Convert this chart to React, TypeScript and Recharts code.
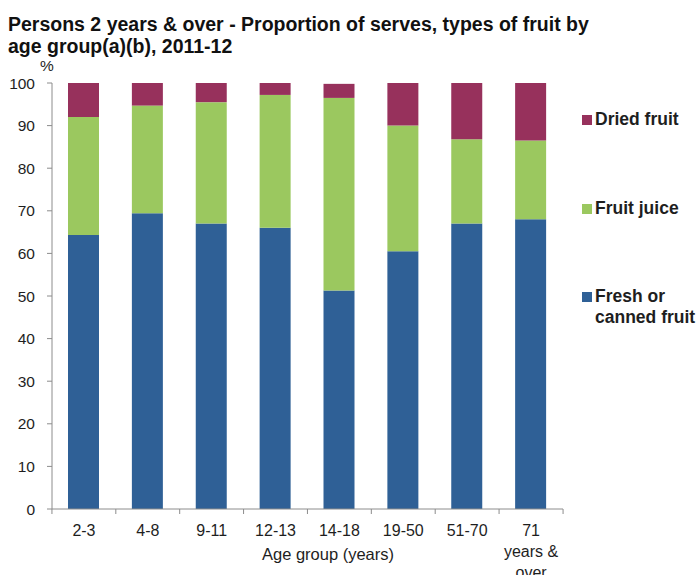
import { BarChart, Bar, XAxis, YAxis } from 'recharts'

const AGE_GROUPS = ['2-3', '4-8', '9-11', '12-13', '14-18', '19-50', '51-70', '71 years & over']
const FRESH = [64.3, 69.4, 67.0, 66.0, 51.3, 60.5, 67.0, 68.0]
const JUICE = [27.7, 25.3, 28.5, 31.2, 45.2, 29.5, 19.8, 18.5]
const DRIED = [8.0, 5.3, 4.5, 2.8, 3.3, 10.0, 13.2, 13.5]
const Y_TICKS = [0, 10, 20, 30, 40, 50, 60, 70, 80, 90, 100]

const C_FRESH = '#2F6096'
const C_JUICE = '#9BC85F'
const C_DRIED = '#97315C'
const AXIS = '#8C8C8C'
const TXT = '#1E1E1E'
const FONT = '"Liberation Sans", Arial, sans-serif'

const data = AGE_GROUPS.map((g, i) => ({
  group: g,
  fresh: FRESH[i],
  juice: JUICE[i],
  dried: DRIED[i],
}))

// age labels, with tick marks on the category boundaries
function AgeTick(props: any) {
  const { x, y, payload, index } = props
  const half = 32
  const lines = payload.value === '71 years & over' ? ['71', 'years &', 'over'] : [payload.value]
  return (
    <g>
      <line x1={x - half} x2={x - half} y1={y - 8} y2={y - 3} stroke={AXIS} />
      {index === AGE_GROUPS.length - 1 && (
        <line x1={x + half} x2={x + half} y1={y - 8} y2={y - 3} stroke={AXIS} />
      )}
      {lines.map((l, i) => (
        <text key={i} x={x} y={y + 19 + i * 21} textAnchor="middle" fontSize={16} fill={TXT} fontFamily={FONT}>
          {l}
        </text>
      ))}
    </g>
  )
}

const legendItems = [
  { label: ['Dried fruit'], color: C_DRIED, top: 109 },
  { label: ['Fruit juice'], color: C_JUICE, top: 198 },
  { label: ['Fresh or', 'canned fruit'], color: C_FRESH, top: 286 },
]

export default function App() {
  return (
    <div style={{ position: 'absolute', left: 0, top: 0, width: 698, height: 575, background: '#fff', fontFamily: FONT, overflow: 'hidden' }}>
      <div style={{ position: 'absolute', left: 8, top: 13, fontSize: 19.5, fontWeight: 'bold', lineHeight: '22px', color: '#111', whiteSpace: 'nowrap' }}>
        Persons 2 years &amp; over - Proportion of serves, types of fruit by
        <br />
        age group(a)(b), 2011-12
      </div>
      <div style={{ position: 'absolute', left: 40, top: 57, fontSize: 15.5, lineHeight: '18px', color: TXT }}>%</div>
      <BarChart width={698} height={575} data={data} margin={{ top: 83, right: 135, bottom: 0, left: 0 }}>
        <YAxis
          domain={[0, 100]}
          ticks={Y_TICKS}
          width={52}
          axisLine={{ stroke: AXIS }}
          tickLine={{ stroke: AXIS }}
          tickSize={5}
          tickMargin={12}
          tick={{ fontSize: 15.5, fill: TXT, fontFamily: FONT }}
          interval={0}
        />
        <XAxis
          dataKey="group"
          height={66}
          axisLine={{ stroke: AXIS }}
          tickLine={false}
          tick={<AgeTick />}
          interval={0}
        />
        <Bar dataKey="fresh" stackId="a" fill={C_FRESH} barSize={31} isAnimationActive={false} />
        <Bar dataKey="juice" stackId="a" fill={C_JUICE} barSize={31} isAnimationActive={false} />
        <Bar dataKey="dried" stackId="a" fill={C_DRIED} barSize={31} isAnimationActive={false} />
      </BarChart>
      <div style={{ position: 'absolute', left: 328, top: 544, fontSize: 16.5, lineHeight: '20px', color: TXT, transform: 'translateX(-50%)', whiteSpace: 'nowrap' }}>
        Age group (years)
      </div>
      {legendItems.map((it) => (
        <div key={it.label[0]} style={{ position: 'absolute', left: 582, top: it.top, display: 'flex', alignItems: 'flex-start' }}>
          <span style={{ display: 'inline-block', width: 10, height: 10, background: it.color, marginTop: 6, marginRight: 3, flexShrink: 0 }} />
          <span style={{ fontSize: 17.5, fontWeight: 'bold', color: TXT, lineHeight: '21px', whiteSpace: 'nowrap' }}>
            {it.label.map((l, i) => (
              <div key={i}>{l}</div>
            ))}
          </span>
        </div>
      ))}
    </div>
  )
}
